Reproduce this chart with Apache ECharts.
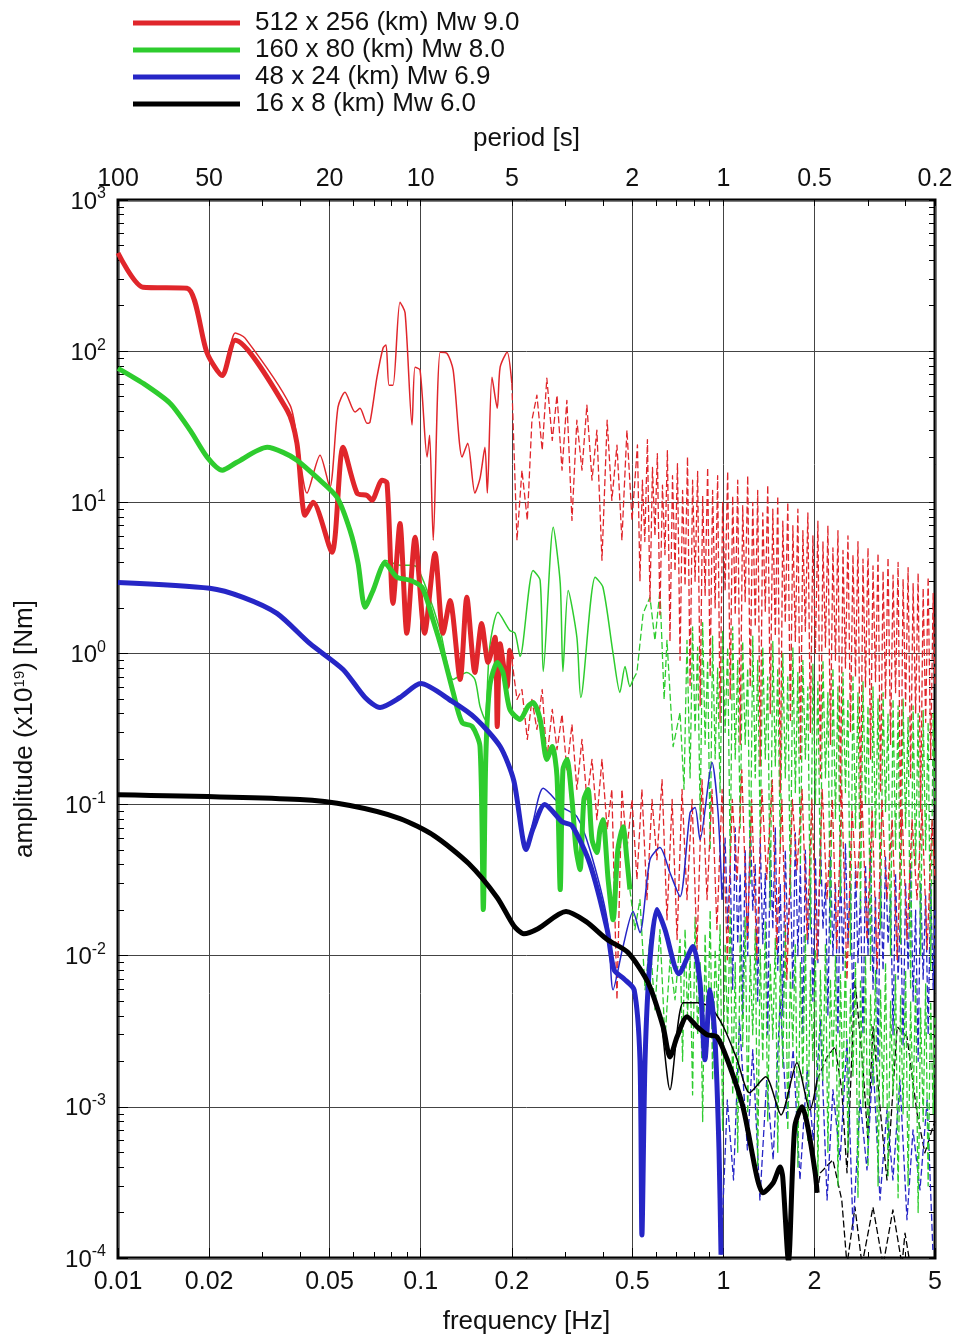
<!DOCTYPE html>
<html><head><meta charset="utf-8">
<script src="https://cdn.jsdelivr.net/npm/echarts@6/dist/echarts.min.js"></script>
<style>html,body{margin:0;padding:0;background:#fff}#chart{width:958px;height:1340px}</style>
</head><body><div id="chart"></div>
<script>
const FONT = "'Liberation Sans', Arial, Helvetica, sans-serif";

// ---- axis ticks / labels ----
const freqTicks = [0.01, 0.02, 0.05, 0.1, 0.2, 0.5, 1, 2, 5];
const freqTickLabels = ['0.01', '0.02', '0.05', '0.1', '0.2', '0.5', '1', '2', '5'];
const periodTickLabels = ['100', '50', '20', '10', '5', '2', '1', '0.5', '0.2'];
const freqMinorTicks = [0.03, 0.04, 0.06, 0.07, 0.08, 0.09, 0.3, 0.4, 0.6, 0.7, 0.8, 0.9, 3, 4];
const ampDecadeExponents = [-4, -3, -2, -1, 0, 1, 2, 3];
const ampMinorMantissas = [2, 3, 4, 5, 6, 7, 8, 9];

const seriesNames = ['512 x 256 (km) Mw 9.0', '160 x 80 (km) Mw 8.0', '48 x 24 (km) Mw 6.9', '16 x 8 (km) Mw 6.0'];
const seriesColors = ['#e0262b', '#2ecc2e', '#2626c6', '#000000'];

// ---- data: [frequency Hz, amplitude x1e19 Nm] ----
const mw90Thick = [[0.0100,446],[0.0121,265],[0.0169,261],[0.0197,97],[0.0221,69],[0.0244,118],[0.0362,40.7],[0.0390,24.6],[0.0415,8.2],[0.0441,10],[0.0509,4.67],[0.0554,23.1],[0.0616,11.5],[0.0665,11.1],[0.069,10.3],[0.0745,14.0],[0.0774,13.4],[0.081,2.14],[0.0854,7.25],[0.090,1.36],[0.0958,5.86],[0.103,1.36],[0.1115,4.59],[0.1185,1.36],[0.125,2.24],[0.135,0.672],[0.142,2.35],[0.151,0.749],[0.159,1.58],[0.167,0.872],[0.176,1.28],[0.179,0.328],[0.183,1.16],[0.193,0.604],[0.197,1.05],[0.200,0.912]];
const mw90Thin = [[0.0100,446],[0.0121,265],[0.0169,261],[0.0197,97],[0.0221,69],[0.0244,132],[0.0263,122],[0.0370,43.9],[0.0393,23.9],[0.0421,11.5],[0.0465,20.5],[0.0501,12.6],[0.0533,42.6],[0.0562,53.5],[0.0607,39.5],[0.0630,41.9],[0.0665,33.3],[0.0680,33.9],[0.0717,67.2],[0.0751,105],[0.0768,110],[0.0786,59.5],[0.081,59.5],[0.0854,211],[0.0888,179],[0.0936,32.4],[0.0958,78.3],[0.0995,74.9],[0.105,19.9],[0.107,27.8],[0.110,5.60],[0.116,98.5],[0.122,97],[0.128,74.9],[0.137,19.9],[0.143,24.6],[0.151,11.5],[0.157,14.4],[0.163,23.1],[0.166,11.5],[0.172,67.2],[0.179,41.9],[0.183,78.3],[0.193,98.5],[0.200,61.3]];
const mw90DashUpper = [[0.200,61.3],[0.208,5.60],[0.216,16.3],[0.225,7.59],[0.233,34.9],[0.242,51.1],[0.252,22.1],[0.261,66.2],[0.272,25.7],[0.282,51.1],[0.293,16.3],[0.304,47.3],[0.316,7.59],[0.328,34.9],[0.341,16.3],[0.354,43.9],[0.368,14.0],[0.382,30.0],[0.397,4.13],[0.413,34.9],[0.428,10.3],[0.445,23.9],[0.462,5.60],[0.480,30.0],[0.499,7.59],
  [0.520,24],[0.530,3.0],[0.540,14],[0.550,5.5],[0.561,26],[0.572,2.2],[0.583,17],[0.594,6.0],[0.605,21],[0.617,1.8],[0.629,13],[0.641,4.5],[0.653,22],[0.666,1.2],[0.679,15],[0.692,3.5],[0.705,18],[0.719,0.9],[0.733,12],[0.747,2.8],[0.761,20],[0.776,0.6],[0.791,14],[0.806,3.0],[0.822,16],[0.838,0.45],[0.854,11],[0.870,2.4],[0.887,17],[0.904,0.7],[0.921,12],[0.939,2.0],[0.957,15],[0.975,0.35],[0.994,10],[1.013,2.6],[1.033,16],[1.053,0.5],[1.073,11],[1.094,1.8],[1.115,14],[1.136,0.25],[1.158,9.5],[1.180,2.2],[1.203,15],[1.226,0.6],[1.250,10],[1.274,1.5],[1.298,12],[1.323,0.18],[1.349,8.5],[1.375,1.9],[1.401,13],[1.428,0.4],[1.456,9],[1.484,1.3],[1.512,11],[1.541,0.12],[1.571,7.5],[1.601,1.6],[1.632,10],[1.664,0.35],[1.696,7],[1.728,1.2],[1.762,9],[1.796,0.2],[1.830,6.5],[1.865,1.4],[1.901,8.5],[1.938,0.3],[1.975,6],[2.013,1.0],[2.052,7.5],[2.091,0.15],[2.132,5.5],[2.173,1.1],[2.214,7],[2.257,0.25],[2.300,5],[2.345,0.9],[2.390,6.5],[2.436,0.1],[2.483,4.8],[2.530,0.8],[2.579,6],[2.629,0.3],[2.679,4.5],[2.731,0.7],[2.783,5.5],[2.837,0.08],[2.891,4.2],[2.947,0.6],[3.004,5],[3.062,0.2],[3.120,3.8],[3.180,0.65],[3.242,4.6],[3.304,0.12],[3.368,3.5],[3.432,0.5],[3.498,4.3],[3.566,0.25],[3.634,3.3],[3.704,0.55],[3.776,4],[3.848,0.06],[3.922,3.1],[3.998,0.45],[4.075,3.7],[4.153,0.15],[4.233,2.9],[4.315,0.4],[4.398,3.4],[4.482,0.09],[4.569,2.7],[4.657,0.35],[4.746,3.2],[4.838,0.2],[4.931,2.5],[5.0,0.6]];
const mw90DashLower = [[0.200,0.912],[0.208,0.496],[0.216,0.577],[0.225,0.270],[0.233,0.496],[0.242,0.314],[0.252,0.577],[0.261,0.199],[0.272,0.426],[0.282,0.231],[0.293,0.395],[0.304,0.170],[0.316,0.339],[0.328,0.126],[0.341,0.270],[0.354,0.108],[0.368,0.199],[0.382,0.0795],[0.397,0.199],[0.413,0.0683],[0.428,0.126],[0.445,0.00511],[0.462,0.126],[0.480,0.0504],[0.499,0.108],[0.518,0.0319],[0.538,0.126],[0.559,0.0235],[0.581,0.108],[0.603,0.0432],[0.627,0.146],[0.651,0.0173],[0.677,0.108],[0.703,0.0128],[0.730,0.126],[0.758,0.0235],[0.788,0.108],[0.818,0.0110],[0.850,0.146],[0.883,0.0235],[0.917,0.126],[0.952,0.0149],[0.99,0.126],[1.03,0.0094],[1.07,0.108],[1.11,0.0319],[1.15,0.170],[1.20,0.0128],[1.24,0.108],[1.29,0.0094],[1.34,0.126],[1.39,0.0319],[1.45,0.146],[1.50,0.0110],[1.56,0.108],[1.62,0.00693],[1.69,0.108],[1.75,0.0371],[1.82,0.126],[1.89,0.0128],[1.96,0.108],[2.04,0.0094],[2.12,0.126],[2.20,0.0235],[2.29,0.108],[2.37,0.0110],[2.46,0.126],[2.56,0.00693],[2.66,0.0927],[2.76,0.0274],[2.87,0.108],[2.98,0.0128],[3.10,0.0927],[3.22,0.00808],[3.34,0.108],[3.47,0.0235],[3.61,0.0795],[3.75,0.0094],[3.89,0.0927],[4.04,0.0128],[4.20,0.0795],[4.36,0.0235],[4.53,0.0927],[4.71,0.0110],[4.89,0.0795],[5.0,0.0319]];

const mw80Thick = [[0.0100,77],[0.0121,61.3],[0.01485,45.2],[0.0173,30.0],[0.0197,19.9],[0.0221,16.3],[0.0247,18.4],[0.0311,23.1],[0.0351,21.4],[0.0390,19.0],[0.0454,14.6],[0.0529,10.8],[0.0584,6.52],[0.0621,3.95],[0.0655,2.02],[0.0696,2.61],[0.0762,3.95],[0.0835,3.19],[0.0922,3.05],[0.101,2.74],[0.110,1.65],[0.1185,1.00],[0.128,0.552],[0.137,0.349],[0.148,0.328],[0.157,0.242],[0.161,0.0202],[0.164,0.199],[0.169,0.604],[0.179,0.872],[0.187,0.749],[0.197,0.426],[0.213,0.366],[0.226,0.446],[0.235,0.473],[0.248,0.366],[0.261,0.199],[0.272,0.242],[0.282,0.153],[0.289,0.0274],[0.295,0.170],[0.304,0.199],[0.316,0.108],[0.326,0.0504],[0.336,0.0371],[0.346,0.108],[0.357,0.126],[0.368,0.0586],[0.382,0.0481],[0.391,0.0683],[0.400,0.0795],[0.416,0.0319],[0.432,0.0173],[0.448,0.0504],[0.466,0.0714],[0.480,0.0432],[0.491,0.0274]];
const mw80Thin = [[0.0100,77],[0.0121,61.3],[0.01485,45.2],[0.0173,30.0],[0.0197,19.9],[0.0221,16.3],[0.0247,18.4],[0.0311,23.1],[0.0351,21.4],[0.0390,19.0],[0.0454,14.6],[0.0529,10.8],[0.0584,6.52],[0.0621,3.95],[0.0655,2.02],[0.0696,2.61],[0.0762,4.13],[0.0854,3.83],[0.0922,3.83],[0.0972,3.71],[0.105,2.61],[0.116,1.42],[0.128,0.672],[0.142,0.749],[0.151,0.672],[0.157,0.446],[0.163,0.366],[0.169,1.10],[0.180,1.87],[0.197,1.42],[0.205,1.36],[0.213,0.955],[0.235,3.54],[0.248,3.05],[0.254,0.759],[0.274,6.83],[0.289,2.91],[0.295,0.759],[0.307,2.61],[0.328,1.28],[0.338,0.511],[0.377,3.19],[0.400,2.74],[0.432,1.0],[0.455,0.552],[0.473,0.82],[0.491,0.604],[0.503,0.672]];
const mw80DashUpper = [[0.503,0.672],[0.518,0.749],[0.543,1.84],[0.572,2.35],[0.594,1.22],[0.617,2.61],[0.637,0.496],[0.651,1.22],[0.682,0.242],[0.719,0.407],[0.741,0.126],[0.758,1.22],
  [0.776,0.15],[0.791,1.5],[0.806,0.3],[0.822,1.1],[0.838,0.08],[0.854,1.6],[0.870,0.25],[0.887,0.9],[0.904,0.05],[0.921,1.3],[0.939,0.2],[0.957,0.8],[0.975,0.12],[0.994,1.4],[1.013,0.3],[1.033,1.1],[1.053,0.04],[1.073,1.5],[1.094,0.2],[1.115,0.9],[1.136,0.07],[1.158,1.2],[1.180,0.25],[1.203,0.8],[1.226,0.03],[1.250,1.3],[1.274,0.15],[1.298,0.9],[1.323,0.06],[1.349,1.1],[1.375,0.2],[1.401,0.7],[1.428,0.02],[1.456,1.2],[1.484,0.18],[1.512,0.8],[1.541,0.05],[1.571,1.0],[1.601,0.15],[1.632,0.7],[1.664,0.025],[1.696,1.1],[1.728,0.12],[1.762,0.75],[1.796,0.04],[1.830,0.9],[1.865,0.2],[1.901,0.6],[1.938,0.015],[1.975,0.85],[2.013,0.1],[2.052,0.65],[2.091,0.03],[2.132,0.9],[2.173,0.15],[2.214,0.55],[2.257,0.012],[2.300,0.8],[2.345,0.08],[2.390,0.6],[2.436,0.025],[2.483,0.75],[2.530,0.12],[2.579,0.5],[2.629,0.01],[2.679,0.7],[2.731,0.07],[2.783,0.55],[2.837,0.02],[2.891,0.65],[2.947,0.1],[3.004,0.45],[3.062,0.008],[3.120,0.6],[3.180,0.06],[3.242,0.5],[3.304,0.015],[3.368,0.55],[3.432,0.09],[3.498,0.4],[3.566,0.01],[3.634,0.5],[3.704,0.05],[3.776,0.45],[3.848,0.012],[3.922,0.5],[3.998,0.07],[4.075,0.38],[4.153,0.006],[4.233,0.45],[4.315,0.04],[4.398,0.4],[4.482,0.01],[4.569,0.42],[4.657,0.05],[4.746,0.35],[4.838,0.008],[4.931,0.4],[5.0,0.1]];
const mw80DashLower = [[0.491,0.0274],[0.510,0.0149],[0.530,0.0235],[0.551,0.00595],[0.572,0.0128],[0.594,0.00439],[0.617,0.0149],[0.641,0.00278],[0.666,0.0094],[0.692,0.00511],[0.719,0.0128],
  [0.733,0.002],[0.747,0.015],[0.761,0.004],[0.776,0.01],[0.791,0.0012],[0.806,0.018],[0.822,0.003],[0.838,0.009],[0.854,0.0008],[0.870,0.014],[0.887,0.0025],[0.904,0.02],[0.921,0.0015],[0.939,0.011],[0.957,0.004],[0.975,0.016],[0.994,0.0007],[1.013,0.012],[1.033,0.003],[1.053,0.02],[1.073,0.0012],[1.094,0.009],[1.115,0.0005],[1.136,0.014],[1.158,0.0025],[1.180,0.018],[1.203,0.0009],[1.226,0.01],[1.250,0.003],[1.274,0.015],[1.298,0.0004],[1.323,0.011],[1.349,0.002],[1.375,0.017],[1.401,0.0008],[1.428,0.009],[1.456,0.0028],[1.484,0.013],[1.512,0.0005],[1.541,0.01],[1.571,0.0018],[1.601,0.016],[1.632,0.0007],[1.664,0.008],[1.696,0.0025],[1.728,0.012],[1.762,0.0004],[1.796,0.009],[1.830,0.0015],[1.865,0.014],[1.901,0.0006],[1.938,0.008],[1.975,0.002],[2.013,0.011],[2.052,0.00035],[2.091,0.008],[2.132,0.0015],[2.173,0.012],[2.214,0.0005],[2.257,0.007],[2.300,0.0018],[2.345,0.01],[2.390,0.0003],[2.436,0.0075],[2.483,0.0012],[2.530,0.011],[2.579,0.0005],[2.629,0.006],[2.679,0.0016],[2.731,0.009],[2.783,0.00025],[2.837,0.007],[2.891,0.001],[2.947,0.01],[3.004,0.0004],[3.062,0.0055],[3.120,0.0014],[3.180,0.008],[3.242,0.0003],[3.304,0.006],[3.368,0.001],[3.432,0.009],[3.498,0.00035],[3.566,0.005],[3.634,0.0012],[3.704,0.0075],[3.776,0.00025],[3.848,0.0055],[3.922,0.0009],[3.998,0.008],[4.075,0.0003],[4.153,0.005],[4.233,0.001],[4.315,0.007],[4.398,0.0002],[4.482,0.0045],[4.569,0.0008],[4.657,0.0065],[4.746,0.0003],[4.838,0.005],[4.931,0.0009],[5.0,0.004]];

const mw69Thick = [[0.0100,2.95],[0.0201,2.70],[0.0259,2.35],[0.0335,1.84],[0.0431,1.16],[0.0554,0.783],[0.0655,0.511],[0.0734,0.439],[0.0854,0.511],[0.100,0.632],[0.127,0.481],[0.152,0.371],[0.183,0.242],[0.203,0.144],[0.223,0.0504],[0.235,0.0693],[0.257,0.1],[0.293,0.077],[0.316,0.0725],[0.362,0.0407],[0.413,0.0149],[0.435,0.00808],[0.469,0.00704],[0.507,0.00595],[0.530,0.00205],[0.538,0.000142],[0.551,0.00205],[0.572,0.0094],[0.603,0.0202],[0.641,0.0149],[0.713,0.00759],[0.794,0.0115],[0.837,0.00662],[0.869,0.00205],[0.903,0.00595],[0.938,0.00278],[0.967,0.000519],[0.982,0.000105]];
const mw69Thin = [[0.0100,2.95],[0.0201,2.70],[0.0259,2.35],[0.0335,1.84],[0.0431,1.16],[0.0554,0.783],[0.0655,0.511],[0.0734,0.439],[0.0854,0.511],[0.100,0.632],[0.127,0.481],[0.152,0.371],[0.183,0.242],[0.203,0.144],[0.223,0.0504],[0.235,0.077],[0.254,0.128],[0.295,0.0955],[0.328,0.0833],[0.362,0.0504],[0.413,0.0173],[0.432,0.00595],[0.466,0.0115],[0.503,0.0196],[0.530,0.0142],[0.572,0.0432],[0.617,0.0519],[0.666,0.0354],[0.719,0.0246],[0.776,0.0885],[0.806,0.0955],[0.837,0.0586],[0.917,0.190],[0.960,0.0885],[0.99,0.0235]];
const mw69DashUpper = [[0.99,0.0235],[1.013,0.06],[1.033,0.015],[1.053,0.04],[1.073,0.006],[1.094,0.07],[1.115,0.012],[1.136,0.035],[1.158,0.004],[1.180,0.05],[1.203,0.01],[1.226,0.08],[1.250,0.02],[1.274,0.04],[1.298,0.005],[1.323,0.06],[1.349,0.012],[1.375,0.035],[1.401,0.003],[1.428,0.055],[1.456,0.015],[1.484,0.07],[1.512,0.008],[1.541,0.03],[1.571,0.004],[1.601,0.05],[1.632,0.012],[1.664,0.035],[1.696,0.006],[1.728,0.065],[1.762,0.01],[1.796,0.04],[1.830,0.003],[1.865,0.05],[1.901,0.012],[1.938,0.03],[1.975,0.005],[2.013,0.045],[2.052,0.009],[2.091,0.06],[2.132,0.015],[2.173,0.03],[2.214,0.004],[2.257,0.045],[2.300,0.01],[2.345,0.03],[2.390,0.003],[2.436,0.04],[2.483,0.008],[2.530,0.055],[2.579,0.012],[2.629,0.03],[2.679,0.004],[2.731,0.04],[2.783,0.009],[2.837,0.025],[2.891,0.003],[2.947,0.04],[3.004,0.01],[3.062,0.05],[3.120,0.006],[3.180,0.025],[3.242,0.002],[3.304,0.035],[3.368,0.008],[3.432,0.045],[3.498,0.012],[3.566,0.025],[3.634,0.003],[3.704,0.035],[3.776,0.007],[3.848,0.02],[3.922,0.0025],[3.998,0.03],[4.075,0.008],[4.153,0.04],[4.233,0.005],[4.315,0.02],[4.398,0.002],[4.482,0.03],[4.569,0.007],[4.657,0.025],[4.746,0.003],[4.838,0.03],[4.931,0.006],[5.0,0.02]];
const mw69DashLower = [[0.982,0.000105],[1.03,0.00111],[1.08,0.000328],[1.13,0.00377],[1.20,0.000519],[1.25,0.00239],[1.32,0.000242],[1.39,0.00151],[1.46,0.000446],[1.54,0.00511],[1.62,0.00082],[1.70,0.00239],[1.79,0.000328],[1.89,0.00176],[1.98,0.000604],[2.09,0.00377],[2.20,0.000242],[2.30,0.0013],[2.43,0.000446],[2.56,0.00278],[2.68,0.000153],[2.83,0.00111],[2.98,0.000383],[3.12,0.00205],[3.29,0.000242],[3.47,0.000955],[3.63,0.000328],[3.83,0.00151],[4.04,0.000179],[4.23,0.000704],[4.46,0.000282],[4.71,0.00111],[4.92,0.000113]];

const mw60Thick = [[0.0100,0.116],[0.0399,0.108],[0.0584,0.0985],[0.0854,0.0808],[0.1106,0.0623],[0.144,0.0407],[0.179,0.0242],[0.203,0.0158],[0.219,0.0140],[0.244,0.0151],[0.302,0.0196],[0.352,0.0168],[0.413,0.0128],[0.484,0.0105],[0.564,0.00662],[0.632,0.00339],[0.666,0.00214],[0.703,0.00291],[0.758,0.00395],[0.818,0.00339],[0.883,0.0030],[0.952,0.00291],[1.03,0.00205],[1.16,0.001],[1.29,0.000344],[1.35,0.00027],[1.46,0.000314],[1.54,0.0004],[1.57,0.000344],[1.64,0.000095],[1.72,0.000736],[1.82,0.001],[1.90,0.000736],[2.01,0.000366],[2.04,0.00027]];
const mw60Thin = [[0.0100,0.116],[0.0399,0.108],[0.0584,0.0985],[0.0854,0.0808],[0.1106,0.0623],[0.144,0.0407],[0.179,0.0242],[0.203,0.0158],[0.219,0.0140],[0.244,0.0151],[0.302,0.0196],[0.352,0.0168],[0.413,0.0128],[0.484,0.0105],[0.564,0.00662],[0.617,0.00407],[0.666,0.0013],[0.736,0.00488],[0.818,0.00488],[0.903,0.00459],[1.00,0.00339],[1.11,0.00205],[1.22,0.00124],[1.38,0.00158],[1.55,0.000885],[1.75,0.00196],[1.93,0.000955],[2.04,0.00151]];
const mw60DashUpper = [[2.04,0.00151],[2.20,0.00214],[2.34,0.0025],[2.46,0.0013],[2.56,0.000366],[2.72,0.00693],[2.89,0.00184],[3.00,0.000604],[3.12,0.00339],[3.29,0.001],[3.47,0.000328],[3.75,0.00339],[4.04,0.00291],[4.36,0.000912],[4.63,0.000496],[4.92,0.000736],[5.0,0.0008]];
const mw60DashLower = [[2.04,0.00027],[2.09,0.000366],[2.30,0.000446],[2.46,0.000242],[2.56,0.00009],[2.72,0.000217],[2.87,0.00009],[3.12,0.000217],[3.37,0.00009],[3.63,0.000208],[3.89,0.00009],[3.98,0.000146],[4.14,0.00009]];

// ---- build chart ----
const L = v => Math.log10(v);
const toLogXY = arr => arr.map(p => [L(p[0]), L(p[1])]);
const near = (a, b) => Math.abs(a - b) < 1e-6;
const freqLabel = v => { const i = freqTicks.findIndex(t => near(L(t), v)); return i >= 0 ? freqTickLabels[i] : ''; };
const periodLabel = v => { const i = freqTicks.findIndex(t => near(L(t), v)); return i >= 0 ? periodTickLabels[i] : ''; };

const ampMinor = [];
ampDecadeExponents.slice(0, -1).forEach(e => ampMinorMantissas.forEach(m => ampMinor.push(L(m) + e)));
const xMin = L(freqTicks[0]), xMax = L(freqTicks[freqTicks.length - 1]);

const labelStyle = { fontFamily: FONT, color: '#111' };
const hidden = { show: false };
const noLine = { show: false, onZero: false };

function mk(name, data, color, width, dashed, smooth) {
  return {
    name, type: 'line', data: toLogXY(data), xAxisIndex: 0, yAxisIndex: 0,
    symbol: 'none', showSymbol: false, smooth: smooth, clip: true, silent: true,
    animation: false,
    lineStyle: { color, width, type: dashed ? [7, 3] : 'solid', cap: 'butt', join: 'round' },
    itemStyle: { color }
  };
}
const groups = [
  [mw90Thick, mw90Thin, mw90DashUpper, mw90DashLower],
  [mw80Thick, mw80Thin, mw80DashUpper, mw80DashLower],
  [mw69Thick, mw69Thin, mw69DashUpper, mw69DashLower],
  [mw60Thick, mw60Thin, mw60DashUpper, mw60DashLower]
];
const series = [];
// dashed continuations: draw small events first so the large-event band stays on top
[3, 2, 1, 0].forEach(i => {
  const g = groups[i];
  series.push(mk(seriesNames[i] + ' lower', g[3], seriesColors[i], 1.3, true, false));
  series.push(mk(seriesNames[i] + ' upper', g[2], seriesColors[i], 1.3, true, false));
});
groups.forEach((g, i) => series.push(mk(seriesNames[i] + ' thin', g[1], seriesColors[i], 1.5, false, 0.25)));
groups.forEach((g, i) => series.push(mk(seriesNames[i], g[0], seriesColors[i], 5, false, 0.25)));

const chart = echarts.init(document.getElementById('chart'), null, { renderer: 'canvas' });
chart.setOption({
  animation: false,
  backgroundColor: '#fff',
  textStyle: { fontFamily: FONT },
  legend: {
    orient: 'vertical', left: 128, top: 5, itemWidth: 107, itemHeight: 5, itemGap: 1,
    icon: 'rect', selectedMode: false,
    data: seriesNames,
    textStyle: { fontSize: 26, color: '#111', fontFamily: FONT, lineHeight: 26, padding: [0, 0, 0, 10] }
  },
  grid: { left: 118, right: 23, top: 200, bottom: 82, show: true, borderColor: '#000', borderWidth: 3,
          outerBoundsMode: 'none', containLabel: false },
  xAxis: [
    { type: 'value', position: 'bottom', min: xMin, max: xMax,
      axisLine: noLine,
      axisTick: { show: true, inside: true, length: 10, customValues: freqTicks.map(L), lineStyle: { color: '#000' } },
      axisLabel: { customValues: freqTicks.map(L), formatter: freqLabel, fontSize: 25, margin: 12, showMinLabel: true, showMaxLabel: true, ...labelStyle },
      splitLine: { show: true, lineStyle: { color: '#444', width: 1 } },
      name: 'frequency [Hz]', nameLocation: 'middle', nameGap: 51,
      nameTextStyle: { fontSize: 26, ...labelStyle } },
    { type: 'value', position: 'top', min: xMin, max: xMax,
      axisLine: noLine,
      axisTick: { show: true, inside: true, length: 6, customValues: freqTicks.concat(freqMinorTicks).map(L), lineStyle: { color: '#000' } },
      axisLabel: { customValues: freqTicks.map(L), formatter: periodLabel, fontSize: 25, margin: 8, showMinLabel: true, showMaxLabel: true, ...labelStyle },
      splitLine: hidden,
      name: 'period [s]', nameLocation: 'middle', nameGap: 48,
      nameTextStyle: { fontSize: 26, ...labelStyle } },
    { type: 'value', position: 'bottom', min: xMin, max: xMax,
      axisLine: noLine,
      axisTick: { show: true, inside: true, length: 6, customValues: freqMinorTicks.map(L), lineStyle: { color: '#000' } },
      axisLabel: hidden, splitLine: hidden }
  ],
  yAxis: [
    { type: 'value', position: 'left', min: -4, max: 3, interval: 1,
      axisLine: noLine,
      axisTick: { show: true, inside: true, length: 10, lineStyle: { color: '#000' } },
      axisLabel: { margin: 12, formatter: v => '{b|10}{s|' + Math.round(v) + '}',
        rich: { b: { fontSize: 24, fontFamily: FONT, color: '#111', lineHeight: 28, verticalAlign: 'bottom' },
                 s: { fontSize: 16, fontFamily: FONT, color: '#111', lineHeight: 16, verticalAlign: 'top' } } },
      splitLine: { show: true, lineStyle: { color: '#444', width: 1 } },
      name: 'amplitude (x10{sup|19}) [Nm]', nameLocation: 'middle', nameGap: 80, nameRotate: 90,
      nameTextStyle: { fontSize: 26, ...labelStyle,
        rich: { sup: { fontSize: 15, fontFamily: FONT, color: '#111', verticalAlign: 'top', lineHeight: 14 } } } },
    { type: 'value', position: 'left', min: -4, max: 3,
      axisLine: noLine,
      axisTick: { show: true, inside: true, length: 6, customValues: ampMinor, lineStyle: { color: '#000' } },
      axisLabel: hidden, splitLine: hidden },
    { type: 'value', position: 'right', min: -4, max: 3,
      axisLine: noLine,
      axisTick: { show: true, inside: true, length: 6, customValues: ampMinor.concat(ampDecadeExponents), lineStyle: { color: '#000' } },
      axisLabel: hidden, splitLine: hidden }
  ],
  series
});
</script></body></html>
